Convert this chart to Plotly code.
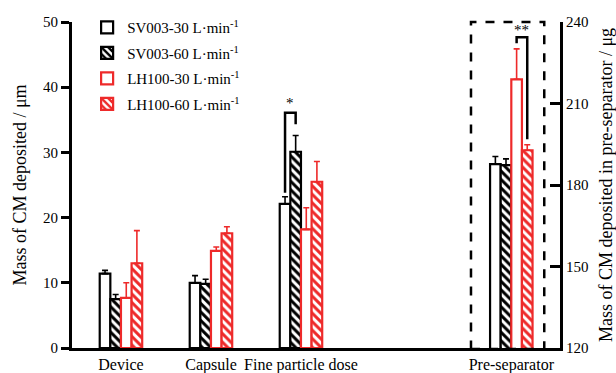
import plotly.graph_objects as go

# ---------------- data ----------------
categories = ["Device", "Capsule", "Fine particle dose"]
presep_label = "Pre-separator"
series_names = ["SV003-30 L·min<sup>-1</sup>", "SV003-60 L·min<sup>-1</sup>",
                "LH100-30 L·min<sup>-1</sup>", "LH100-60 L·min<sup>-1</sup>"]

sv30 = [11.4, 10.0, 22.1]
sv30_err = [0.5, 1.1, 1.1]
sv60 = [7.5, 9.85, 30.1]
sv60_err = [0.7, 0.7, 2.5]
lh30 = [7.7, 14.9, 18.2]
lh30_err = [2.3, 0.6, 3.3]
lh60 = [13.0, 17.6, 25.5]
lh60_err = [5.0, 1.0, 3.1]

presep_vals = [187.7, 187.3, 218.9, 192.8]
presep_errs = [2.8, 2.3, 11.2, 2.0]

# significance brackets: (left leg bottom, top, right leg bottom)
fpd_bracket = [23.8, 36.1, 34.3]
presep_bracket = [232.2, 234.4, 196.8]

# ---------------- style ----------------
BLACK = "#000000"
RED = "#ee2a2a"
FONT = "Liberation Serif, Times New Roman, serif"
cat_x = [0, 1, 2]
presep_x = 4.337
W = 0.118

colors = [BLACK, BLACK, RED, RED]
hatched = [False, True, False, True]
left_vals = [sv30, sv60, lh30, lh60]
left_errs = [sv30_err, sv60_err, lh30_err, lh60_err]

fig = go.Figure()


def marker_for(i):
    c = colors[i]
    m = dict(color="white", line=dict(color=c, width=2.2))
    if hatched[i]:
        m["pattern"] = dict(shape="\\", fgcolor=c, bgcolor="white",
                            size=6, solidity=0.5, fillmode="replace")
    return m


for i in range(4):
    fig.add_trace(go.Bar(
        x=cat_x, y=left_vals[i], name=series_names[i],
        width=W, offset=(i - 2) * W,
        marker=marker_for(i),
        error_y=dict(type="data", array=left_errs[i], arrayminus=[0] * 3,
                     symmetric=False, color=colors[i], thickness=1.6, width=3),
        legendgroup=f"g{i}", showlegend=True, yaxis="y",
    ))

for i in range(4):
    fig.add_trace(go.Bar(
        x=[presep_x], y=[presep_vals[i]], name=series_names[i],
        width=W, offset=(i - 2) * W,
        marker=marker_for(i),
        error_y=dict(type="data", array=[presep_errs[i]], arrayminus=[0],
                     symmetric=False, color=colors[i], thickness=1.6, width=3),
        legendgroup=f"g{i}", showlegend=False, yaxis="y2",
    ))


def center(xc, i):
    return xc + (i - 1.5) * W


shapes = []
xl, xr = center(cat_x[2], 0), center(cat_x[2], 1)
shapes.append(dict(type="path", xref="x", yref="y",
                   path=f"M {xl},{fpd_bracket[0]} L {xl},{fpd_bracket[1]} L {xr},{fpd_bracket[1]} L {xr},{fpd_bracket[2]}",
                   line=dict(color=BLACK, width=2.5)))
xl2, xr2 = center(presep_x, 2), center(presep_x, 3)
shapes.append(dict(type="path", xref="x", yref="y2",
                   path=f"M {xl2},{presep_bracket[0]} L {xl2},{presep_bracket[1]} L {xr2},{presep_bracket[1]} L {xr2},{presep_bracket[2]}",
                   line=dict(color=BLACK, width=2.5)))
shapes.append(dict(type="rect", xref="x", yref="paper",
                   x0=presep_x - 0.448, x1=presep_x + 0.366, y0=-0.003, y1=1.0,
                   line=dict(color=BLACK, width=2.5, dash="dash")))

annotations = [
    dict(x=(xl + xr) / 2, y=fpd_bracket[1], xref="x", yref="y", text="*",
         showarrow=False, yanchor="bottom", font=dict(family=FONT, size=15, color=BLACK)),
    dict(x=(xl2 + xr2) / 2, y=presep_bracket[1], xref="x", yref="y2", text="**",
         showarrow=False, yanchor="bottom", yshift=-3, font=dict(family=FONT, size=15, color=BLACK)),
]

fig.update_layout(
    width=616, height=373,
    margin=dict(l=72, r=56, t=21, b=25),
    plot_bgcolor="white", paper_bgcolor="white",
    barmode="overlay",
    font=dict(family=FONT, size=15, color=BLACK),
    shapes=shapes, annotations=annotations,
    legend=dict(x=0.031, y=1.03, xanchor="left", yanchor="top",
                font=dict(family=FONT, size=15, color=BLACK),
                tracegroupgap=3, bgcolor="rgba(0,0,0,0)", traceorder="grouped"),
    xaxis=dict(range=[-0.544, 4.878], tickvals=cat_x + [presep_x],
               ticktext=categories + [presep_label], automargin=False,
               showline=True, linecolor=BLACK, linewidth=3, ticks="",
               showgrid=False, zeroline=False, tickfont=dict(family=FONT, size=16)),
    yaxis=dict(range=[0, 50], tickvals=[0, 10, 20, 30, 40, 50], automargin=False,
               showline=True, linecolor=BLACK, linewidth=3,
               ticks="outside", ticklen=8, tickwidth=2.5, tickcolor=BLACK,
               showgrid=False, zeroline=False, tickfont=dict(family=FONT, size=15),
               title=dict(text="Mass of CM deposited / μm", font=dict(family=FONT, size=18), standoff=12)),
    yaxis2=dict(range=[120, 240], tickvals=[120, 150, 180, 210, 240], automargin=False,
                overlaying="y", side="right",
                showline=True, linecolor=BLACK, linewidth=3,
                ticks="inside", ticklen=10, tickwidth=2.5, tickcolor=BLACK,
                showgrid=False, zeroline=False, tickfont=dict(family=FONT, size=15),
                title=dict(text="Mass of CM deposited in pre-separator / μg", font=dict(family=FONT, size=18), standoff=14)),
)

fig.write_html("out.html")
